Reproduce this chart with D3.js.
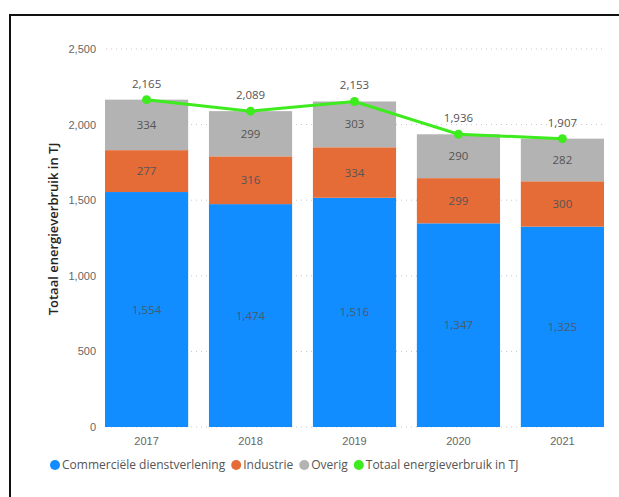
<!DOCTYPE html>
<html>
<head>
<meta charset="utf-8">
<script src="https://cdn.jsdelivr.net/npm/d3@7"></script>
<style>
  html,body{margin:0;padding:0;background:#fff;}
  svg{display:block;font-family:"Open Sans","Segoe UI",sans-serif;}
</style>
</head>
<body>
<div id="chart"></div>
<script>
const years = ['2017','2018','2019','2020','2021'];
const commercieel = [1554, 1474, 1516, 1347, 1325];
const industrie = [277, 316, 334, 299, 300];
const overig = [334, 299, 303, 290, 282];
const totaal = [2165, 2089, 2153, 1936, 1907];
const yTicks = [0, 500, 1000, 1500, 2000, 2500];
const seriesNames = ['Commerciële dienstverlening', 'Industrie', 'Overig', 'Totaal energieverbruik in TJ'];
const colors = ['#118DFF', '#E66C37', '#B3B3B3', '#3EEB1E'];

const W = 619, H = 497;
const svg = d3.select('#chart').append('svg').attr('width', W).attr('height', H);

// frame (only top + left visible in the screenshot)
svg.append('path').attr('d', `M10,${H} V15 H${W}`).attr('fill','none').attr('stroke','#111').attr('stroke-width',2);

const x = d3.scaleBand().domain(years).range([105, 604]).paddingInner(0.2).paddingOuter(0);
const y = d3.scaleLinear().domain([0, 2500]).range([427, 49]);

// gridlines
svg.append('g').selectAll('line').data(yTicks).enter().append('line')
  .attr('x1', 106).attr('x2', 606)
  .attr('y1', d=>y(d)).attr('y2', d=>y(d))
  .attr('stroke','#c8c8c8').attr('stroke-width',1).attr('stroke-dasharray','1,4');

// y axis labels
const yAxis = d3.axisLeft(y).tickValues(yTicks).tickSize(0).tickPadding(0).tickFormat(d3.format(','));
const ya = svg.append('g').attr('transform','translate(96,0)').call(yAxis);
ya.select('.domain').remove();
ya.selectAll('text').attr('fill','#666').style('font-size','11px');

// y title
svg.append('text').attr('transform','translate(58,229) rotate(-90)')
  .attr('text-anchor','middle').attr('fill','#252423')
  .style('font-size','13px').style('font-weight','600')
  .text('Totaal energieverbruik in TJ');

// stacked bars
const rows = years.map((yr,i)=>({year:yr, c:commercieel[i], ind:industrie[i], o:overig[i]}));
const stack = d3.stack().keys(['c','ind','o'])(rows);
stack.forEach((s,k)=>{
  const g = svg.append('g');
  g.selectAll('rect').data(s).enter().append('rect')
    .attr('x', d=>x(d.data.year)).attr('width', x.bandwidth())
    .attr('y', d=>y(d[1])).attr('height', d=>y(d[0])-y(d[1]))
    .attr('fill', colors[k]);
  g.selectAll('text').data(s).enter().append('text')
    .attr('x', d=>x(d.data.year)+x.bandwidth()/2)
    .attr('y', d=>(y(d[0])+y(d[1]))/2)
    .attr('dy','0.35em').attr('text-anchor','middle')
    .attr('fill', k===0 ? '#4a5a6a' : '#555')
    .style('font-size','11.5px')
    .text(d=>d3.format(',')(d[1]-d[0]));
});

// x axis labels
const xa = svg.append('g').attr('transform','translate(0,429)')
  .call(d3.axisBottom(x).tickSize(0).tickPadding(8));
xa.select('.domain').remove();
xa.selectAll('text').attr('fill','#666').style('font-size','11px');

// total line
const cx = d=>x(d.year)+x.bandwidth()/2;
const pts = years.map((yr,i)=>({year:yr, v:totaal[i]}));
svg.append('path').datum(pts)
  .attr('fill','none').attr('stroke',colors[3]).attr('stroke-width',3)
  .attr('d', d3.line().x(cx).y(d=>y(d.v)));
svg.append('g').selectAll('circle').data(pts).enter().append('circle')
  .attr('cx',cx).attr('cy',d=>y(d.v)).attr('r',4.5).attr('fill',colors[3]);
svg.append('g').selectAll('text').data(pts).enter().append('text')
  .attr('x',cx).attr('y',d=>y(d.v)-12).attr('text-anchor','middle')
  .attr('fill','#555').style('font-size','11.5px')
  .text(d=>d3.format(',')(d.v));

// legend
const leg = svg.append('g').attr('transform','translate(50,465)');
let lx = 0;
seriesNames.forEach((n,i)=>{
  const it = leg.append('g').attr('transform',`translate(${lx},0)`);
  it.append('circle').attr('cx',5).attr('cy',0).attr('r',5).attr('fill',colors[i]);
  const t = it.append('text').attr('x',12).attr('dy','0.35em').attr('fill','#555')
    .style('font-size','12px').text(n);
  lx += 12 + t.node().getComputedTextLength() + 6;
});
</script>
</body>
</html>
